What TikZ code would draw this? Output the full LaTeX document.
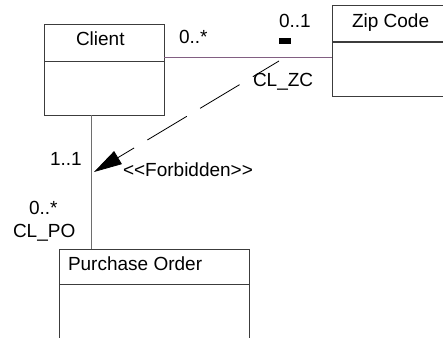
\documentclass[tikz,border=0pt]{standalone}
\usepackage{fontspec}
\setmainfont{Liberation Sans}
\usetikzlibrary{arrows.meta}
\definecolor{boxline}{RGB}{60,60,60}
\definecolor{assoc}{RGB}{130,95,130}
\definecolor{vline}{RGB}{110,110,110}
\begin{document}
\begin{tikzpicture}[x=1pt,y=-1pt,
  every node/.style={font=\fontsize{19}{21}\selectfont, inner sep=0pt, outer sep=0pt},
  classbox/.style={draw=boxline, line width=1pt, rectangle, anchor=north west},
  lbl/.style={anchor=base west},
  divider/.style={draw=boxline, line width=1pt}]
\clip (0,0) rectangle (443,337);
\fill[white] (0,0) rectangle (443,337);
% boxes
\node[classbox, minimum width=120pt, minimum height=90pt] (client) at (44,25) {};
\node[classbox, minimum width=140pt, minimum height=90pt] (zip) at (332,6) {};
\node[classbox, minimum width=190pt, minimum height=110pt] (po) at (59,249) {};
\draw[divider] (client.west |- 0,61) -- ([xshift=1pt]client.east |- 0,61);
\draw[divider] (zip.west |- 0,42) -- (zip.east |- 0,42);
\draw[divider] (po.west |- 0,284) -- ([xshift=1pt]po.east |- 0,284);
% titles
\node[lbl] (tclient) at (76,45.5) {Client};
\node[lbl] (tzip) at (352,28) {Zip Code};
\node[lbl] (tpo) at (68,270) {Purchase Order};
% association
\draw[assoc, line width=1pt] ([yshift=13pt]client.east) -- ([yshift=-6pt]zip.west);
\draw[vline, line width=1pt] ([xshift=-13pt]client.south) -- ([xshift=-63pt]po.north);
% small rectangle
\fill[black] (279,38) rectangle (291,44);
% dashed dependency
\coordinate (dstart) at (279,61);
\coordinate (dtip) at (94,172);
\draw[black, line width=0.8pt, dash pattern=on 46pt off 15.5pt, dash phase=15.5pt,
  -{Triangle[length=28pt,width=15pt]}] (dstart) -- (dtip);
% labels
\node[lbl] (m1) at (179,43) {0..*};
\node[lbl] (m2) at (279,27.7) {0..1};
\node[lbl] (rzc) at (253,86) {CL\_ZC};
\node[lbl] (m3) at (50,165) {1..1};
\node[lbl] (st) at (123,176) {<{}<Forbidden>{}>};
\node[lbl] (m4) at (29,214) {0..*};
\node[lbl] (rpo) at (13,237) {CL\_PO};
\end{tikzpicture}
\end{document}
